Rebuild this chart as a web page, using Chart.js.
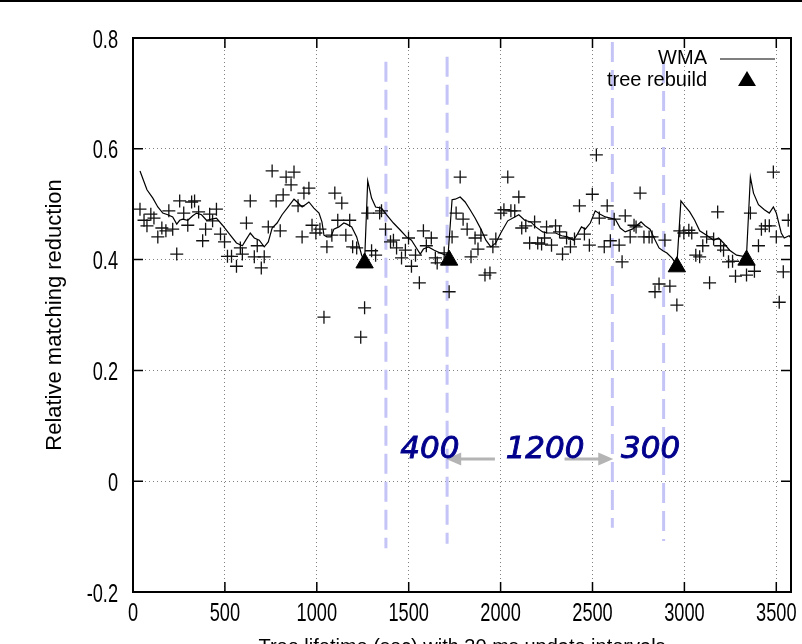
<!DOCTYPE html>
<html lang="en">
<head>
  <meta charset="UTF-8" />
  <title>Relative matching reduction</title>
  <script src="https://cdn.jsdelivr.net/npm/chart.js"></script>
  <style>
    html, body { margin: 0; padding: 0; background: #fff; overflow: hidden; }
    #wrap { width: 802px; height: 670px; position: relative; }
  </style>
</head>
<body>
  <div id="wrap"><canvas id="chartCanvas"></canvas></div>

  <script>
    // raw samples (+)
    const sampleX = [38,60,76,97,114,135,157,179,195,216,238,254,276,298,319,335,357,379,395,417,433,454,476,498,514,536,563,584,595,617,638,660,676,698,714,736,757,779,801,817,833,860,876,898,920,930,957,974,995,1017,1039,1055,1082,1098,1114,1136,1158,
      1179,1195,1217,1239,1260,1277,1298,1320,1342,1352,1374,1401,1417,1434,1461,1482,1499,1515,1537,1558,1580,1596,1623,1645,1655,1693,1720,1736,1758,1780,1796,1818,1839,1861,1877,1893,1915,1942,1958,1974,2001,2018,2039,2056,2077,2099,2115,2137,2158,2185,2202,2223,2239,
      2250,2277,2299,2321,2337,2359,2380,2402,2429,2456,2483,2499,2521,2537,2564,2580,2597,2618,2645,2661,2678,2705,2726,2737,2759,2780,2808,2824,2840,2862,2894,2921,2959,2975,2997,3024,3040,3062,3083,3100,3121,3137,3159,3181,3197,3213,3240,3262,3278,3338,3359,3381,3403,3419,3440,3462,3484,3500,3516,3538,3565,3578];
    const sampleY = [0.491,0.471,0.461,0.482,0.475,0.441,0.457,0.452,0.488,0.455,0.410,0.506,0.484,0.462,0.504,0.506,0.486,0.434,0.455,0.482,0.470,0.491,0.446,0.432,0.406,0.406,0.388,0.421,0.410,0.466,0.506,0.405,0.425,0.385,0.405,0.459,0.560,0.506,0.452,0.517,0.549,0.535,0.558,0.497,0.441,0.520,0.529,0.462,0.448,0.455,0.296,0.423,0.444,0.520,0.471,0.502,0.444,
      0.471,0.423,0.421,0.260,0.313,0.484,0.416,0.408,0.484,0.488,0.455,0.432,0.435,0.421,0.403,0.417,0.439,0.388,0.408,0.358,0.452,0.425,0.439,0.403,0.394,0.412,0.342,0.441,0.484,0.549,0.473,0.455,0.405,0.439,0.419,0.444,0.372,0.376,0.423,0.437,0.484,0.490,0.549,0.488,0.488,0.513,0.457,0.461,0.430,0.468,0.430,0.428,0.439,
      0.459,0.426,0.461,0.450,0.410,0.439,0.423,0.437,0.497,0.446,0.426,0.518,0.589,0.475,0.423,0.497,0.434,0.473,0.426,0.396,0.479,0.441,0.462,0.459,0.520,0.441,0.441,0.441,0.342,0.356,0.435,0.352,0.318,0.452,0.448,0.453,0.448,0.408,0.405,0.425,0.441,0.358,0.437,0.486,0.425,0.417,0.396,0.397,0.370,0.372,0.484,0.379,0.425,0.455,0.461,0.461,0.558,0.441,0.323,0.378,0.471,0.425];

    // weighted moving average
    const wmaX = [38,76,108,135,162,189,216,238,254,270,298,325,346,373,400,427,454,487,525,563,595,617,638,660,687,714,736,757,784,811,844,876,893,920,941,957,984,1012,1028,1039,1055,1077,1093,1120,1147,1163,1190,1217,1244,1260,1277,1298,1320,1352,1379,1417,1455,1488,1515,1542,1563,1580,1607,1639,1672,1699,1715,1736,1753,1780,1807,1834,1861,1893,1920,1947,1974,2001,2039,2077,2099,2131,2164,2191,2229,2256,2299,2332,2364,2396,2418,2440,2461,2488,2515,2542,2570,2597,2624,2651,2678,2716,2743,2764,2786,2813,2835,2862,2883,2905,2932,2959,2981,3002,3029,3056,3083,3121,3159,3186,3213,3246,3284,3321,3338,3359,3376,3403,3435,3462,3484,3500,3527,3543,3570,3580];
    const wmaY = [0.560,0.526,0.511,0.495,0.484,0.481,0.477,0.464,0.471,0.473,0.471,0.479,0.484,0.481,0.471,0.473,0.475,0.462,0.446,0.430,0.425,0.437,0.448,0.439,0.435,0.423,0.432,0.457,0.466,0.481,0.495,0.509,0.504,0.495,0.500,0.504,0.493,0.484,0.468,0.444,0.441,0.441,0.455,0.459,0.466,0.464,0.459,0.441,0.408,0.397,0.542,0.511,0.495,0.493,0.481,0.466,0.453,0.441,0.435,0.421,0.410,0.419,0.423,0.417,0.412,0.408,0.412,0.508,0.509,0.513,0.504,0.490,0.475,0.455,0.435,0.423,0.430,0.448,0.470,0.477,0.481,0.471,0.468,0.459,0.450,0.448,0.448,0.443,0.441,0.435,0.446,0.459,0.455,0.466,0.488,0.482,0.477,0.475,0.473,0.457,0.450,0.455,0.462,0.468,0.461,0.455,0.439,0.421,0.416,0.412,0.403,0.390,0.506,0.497,0.486,0.471,0.452,0.444,0.435,0.439,0.430,0.417,0.408,0.406,0.408,0.549,0.520,0.499,0.490,0.484,0.495,0.484,0.448,0.439,0.443,0.439];

    // tree rebuilds
    const rebuildX = [1260, 1720, 2959, 3338];
    const rebuildY = [0.394, 0.399, 0.387, 0.399];

    // vertical dashed markers
    const markerX = [1376, 1709, 2608, 2887];
    const markerTop = [0.757, 0.766, 0.793, 0.755];
    const markerBottom = [-0.121, -0.113, -0.084, -0.108];

    // gap annotations
    const gapLabels = ['400', '1200', '300'];
    const gapLabelX = [1615, 2242, 2816];
    const gapLabelY = 0.056;
    const arrowFrom = [1969, 2348];
    const arrowTo = [1704, 2613];
    const arrowY = 0.040;

    // axes
    const xTicks = [0, 500, 1000, 1500, 2000, 2500, 3000, 3500];
    const yTicks = [-0.2, 0, 0.2, 0.4, 0.6, 0.8];
    const yTickLabels = ['-0.2', '0', '0.2', '0.4', '0.6', '0.8'];
    const X_MIN = 0, X_MAX = 3580;
    const Y_MIN = -0.2, Y_MAX = 0.8;

    const sans = '"Liberation Sans", Arial, sans-serif';

    const zip = (xs, ys) => xs.map((x, i) => ({ x, y: ys[i] }));

    const markerSets = markerX.map((x, i) => ({
      label: 'marker' + i,
      data: [{ x, y: markerTop[i] }, { x, y: markerBottom[i] }],
      showLine: true,
      borderColor: '#c4c4f6',
      borderWidth: 3,
      borderDash: [20, 8],
      pointRadius: 0,
      order: 10
    }));

    // gnuplot-ish narrow tick text
    function narrowText(ctx, text, x, y, align) {
      ctx.save();
      ctx.translate(x, y);
      ctx.scale(0.7, 1);
      ctx.textAlign = align;
      ctx.textBaseline = 'alphabetic';
      ctx.fillText(text, 0, 0);
      ctx.restore();
    }

    const framePlugin = {
      id: 'frame',
      afterDatasetsDraw(chart) {
        const { ctx, chartArea: a, scales: { x, y } } = chart;
        ctx.save();

        // arrows
        ctx.strokeStyle = '#b4b4b4';
        ctx.fillStyle = '#b4b4b4';
        ctx.lineWidth = 3;
        arrowFrom.forEach((from, i) => {
          const x0 = x.getPixelForValue(from), x1 = x.getPixelForValue(arrowTo[i]);
          const py = y.getPixelForValue(arrowY);
          const dir = Math.sign(x1 - x0);
          ctx.beginPath();
          ctx.moveTo(x0, py);
          ctx.lineTo(x1 - dir * 12, py);
          ctx.stroke();
          ctx.beginPath();
          ctx.moveTo(x1, py);
          ctx.lineTo(x1 - dir * 15, py - 6.5);
          ctx.lineTo(x1 - dir * 15, py + 6.5);
          ctx.closePath();
          ctx.fill();
        });

        // gap labels, slightly heavier
        ctx.fillStyle = '#00008c';
        ctx.strokeStyle = '#00008c';
        ctx.lineWidth = 0.9;
        ctx.font = 'italic 31px "DejaVu Sans", sans-serif';
        ctx.textAlign = 'center';
        ctx.textBaseline = 'middle';
        gapLabels.forEach((t, i) => {
          const px = x.getPixelForValue(gapLabelX[i]), py = y.getPixelForValue(gapLabelY);
          ctx.fillText(t, px, py);
          ctx.strokeText(t, px, py);
        });

        // inward ticks
        ctx.strokeStyle = '#000';
        ctx.lineWidth = 1.5;
        ctx.beginPath();
        x.ticks.forEach(t => {
          const px = x.getPixelForValue(t.value);
          ctx.moveTo(px, a.bottom); ctx.lineTo(px, a.bottom - 10);
          ctx.moveTo(px, a.top); ctx.lineTo(px, a.top + 10);
        });
        y.ticks.forEach(t => {
          const py = y.getPixelForValue(t.value);
          ctx.moveTo(a.left, py); ctx.lineTo(a.left + 10, py);
          ctx.moveTo(a.right, py); ctx.lineTo(a.right - 10, py);
        });
        ctx.stroke();

        // frame
        ctx.lineWidth = 2;
        ctx.strokeRect(a.left, a.top, a.right - a.left, a.bottom - a.top);

        // rule at the very top
        ctx.fillStyle = '#000';
        ctx.fillRect(0, 0, chart.width, 2);

        // tick labels
        ctx.font = '26px ' + sans;
        x.ticks.forEach(t => {
          narrowText(ctx, String(t.value), x.getPixelForValue(t.value), a.bottom + 29, 'center');
        });
        y.ticks.forEach((t, i) => {
          narrowText(ctx, yTickLabels[i], a.left - 15, y.getPixelForValue(t.value) + 9.5, 'right');
        });

        // key
        ctx.font = '20px ' + sans;
        ctx.textAlign = 'right';
        ctx.textBaseline = 'middle';
        ctx.fillText('WMA', 707, 58);
        ctx.fillText('tree rebuild', 707, 80);
        ctx.lineWidth = 1.2;
        ctx.beginPath();
        ctx.moveTo(720, 59); ctx.lineTo(775, 59);
        ctx.stroke();
        ctx.beginPath();
        ctx.moveTo(747, 71); ctx.lineTo(756, 86); ctx.lineTo(738, 86);
        ctx.closePath();
        ctx.fill();

        ctx.restore();
      }
    };

    new Chart(document.getElementById('chartCanvas'), {
      type: 'scatter',
      data: {
        datasets: [
          {
            label: 'tree rebuild',
            data: zip(rebuildX, rebuildY),
            pointStyle: 'triangle',
            pointRadius: 10,
            backgroundColor: '#000',
            borderColor: '#000',
            borderWidth: 1,
            order: 1
          },
          {
            label: 'WMA',
            data: zip(wmaX, wmaY),
            showLine: true,
            borderColor: '#000',
            borderWidth: 1.2,
            pointRadius: 0,
            tension: 0,
            order: 2
          },
          {
            label: 'samples',
            data: zip(sampleX, sampleY),
            pointStyle: 'cross',
            pointRadius: 6.5,
            borderColor: '#111',
            borderWidth: 1.3,
            order: 3
          },
          ...markerSets
        ]
      },
      options: {
        responsive: true,
        maintainAspectRatio: false,
        animation: false,
        layout: { padding: { top: 38, right: 7, left: 0, bottom: 0 } },
        plugins: { legend: { display: false }, tooltip: { enabled: false } },
        scales: {
          x: {
            type: 'linear',
            min: X_MIN,
            max: X_MAX,
            afterBuildTicks: s => { s.ticks = xTicks.map(v => ({ value: v })); },
            afterFit: s => { s.height = 78; },
            ticks: { display: false },
            grid: { color: '#808080', lineWidth: 1, drawTicks: false },
            border: { display: false, dash: [1, 3] },
            title: {
              display: true,
              text: 'Tree lifetime (sec) with 30 ms update intervals',
              color: '#000',
              font: { family: sans, size: 20 },
              padding: { top: 0, bottom: 11 }
            }
          },
          y: {
            type: 'linear',
            min: Y_MIN,
            max: Y_MAX,
            afterBuildTicks: s => { s.ticks = yTicks.map(v => ({ value: v })); },
            afterFit: s => { s.width = 133; },
            ticks: { display: false },
            grid: { color: '#808080', lineWidth: 1, drawTicks: false },
            border: { display: false, dash: [1, 3] },
            title: {
              display: true,
              text: 'Relative matching reduction',
              color: '#000',
              font: { family: sans, size: 22 },
              padding: { top: 42, bottom: 0 }
            }
          }
        }
      },
      plugins: [framePlugin]
    });
  </script>
</body>
</html>
